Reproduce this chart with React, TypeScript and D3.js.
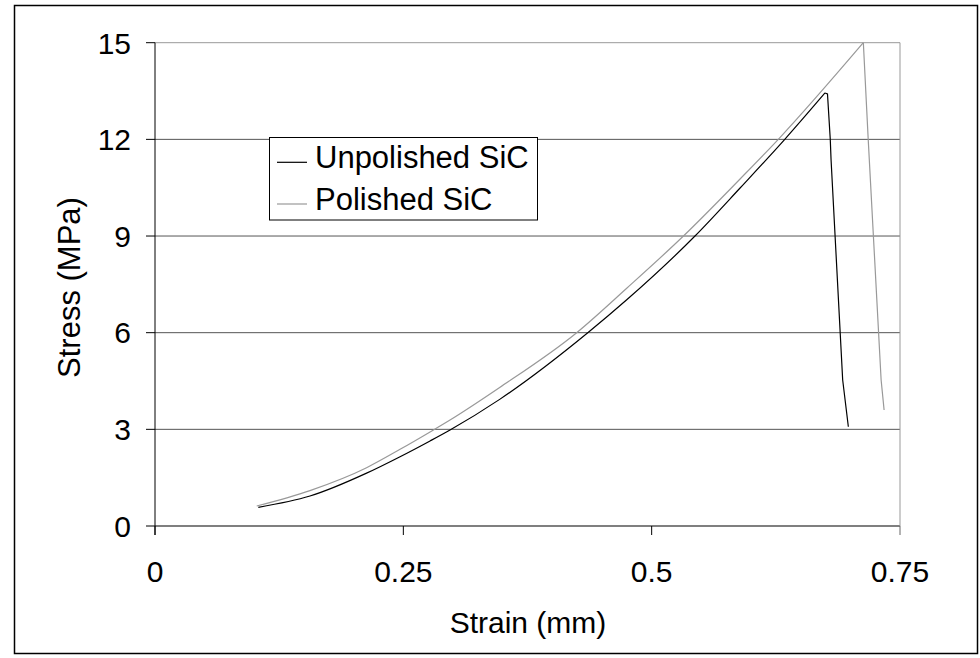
import React from "react";
import * as d3 from "d3";

const polishedStrain = [0.1024, 0.156, 0.213, 0.2467, 0.2769, 0.297, 0.347, 0.4245, 0.4749, 0.532, 0.589, 0.6275, 0.7131, 0.718, 0.731, 0.734];
const polishedStress = [0.62, 1.1, 1.81, 2.38, 2.92, 3.29, 4.3, 6.0, 7.38, 9.0, 10.77, 12.0, 15.0, 12.0, 4.53, 3.6];

const unpolishedStrain = [0.104, 0.156, 0.213, 0.2467, 0.2769, 0.297, 0.347, 0.4366, 0.4749, 0.5436, 0.589, 0.634, 0.6745, 0.677, 0.6798, 0.6806, 0.6923, 0.698];
const unpolishedStress = [0.58, 0.93, 1.64, 2.15, 2.64, 2.98, 3.93, 6.02, 7.02, 9.0, 10.49, 12.0, 13.44, 13.41, 12.0, 11.37, 4.53, 3.08];

const xTicks = [0, 0.25, 0.5, 0.75];
const xTickLabels = ["0", "0.25", "0.5", "0.75"];
const yTicks = [0, 3, 6, 9, 12, 15];
const yTickLabels = ["0", "3", "6", "9", "12", "15"];

const seriesNames = ["Unpolished SiC", "Polished SiC"];
const seriesColors = ["#000000", "#999999"];

const FONT = "'Liberation Sans', Arial, sans-serif";

type P = [number, number];

export default function App() {
  const x = d3.scaleLinear().domain([0, 0.75]).range([155, 900]);
  const y = d3.scaleLinear().domain([0, 15]).range([526, 42.7]);
  const smooth = d3
    .line<P>()
    .x((d) => x(d[0]))
    .y((d) => y(d[1]))
    .curve(d3.curveMonotoneX);
  const straight = d3
    .line<P>()
    .x((d) => x(d[0]))
    .y((d) => y(d[1]));

  const unpol: P[] = unpolishedStrain.map((s, i) => [s, unpolishedStress[i]]);
  const pol: P[] = polishedStrain.map((s, i) => [s, polishedStress[i]]);

  const split = (pts: P[]) => {
    const peak = d3.maxIndex(pts, (d) => d[1]);
    return [pts.slice(0, peak + 1), pts.slice(peak)];
  };
  const [polUp, polDown] = split(pol);
  const [unUp, unDown] = split(unpol);

  return (
    <svg
      width={980}
      height={658}
      style={{ position: "absolute", left: 0, top: 0, background: "#fff" }}
      fontFamily={FONT}
    >
      <rect x={0} y={0} width={980} height={658} fill="#fff" />
      <rect x={14.5} y={5.5} width={963} height={648} fill="none" stroke="#000" strokeWidth={1.5} />

      {/* gridlines */}
      {yTicks.map((t) => (
        <line key={"g" + t} x1={x(0)} x2={x(0.75)} y1={y(t)} y2={y(t)} stroke={t === 15 ? "#999" : "#555"} strokeWidth={t === 0 ? 1.6 : 1} />
      ))}
      {/* plot border right */}
      <line x1={x(0.75)} x2={x(0.75)} y1={y(15)} y2={y(0)} stroke="#999" strokeWidth={1} />

      {/* y axis */}
      <line x1={x(0)} x2={x(0)} y1={y(15)} y2={y(0) + 9} stroke="#000" strokeWidth={1} />
      {yTicks.map((t, i) => (
        <g key={"yt" + t}>
          <line x1={x(0) - 9} x2={x(0)} y1={y(t)} y2={y(t)} stroke="#000" strokeWidth={1} />
          <text x={131} y={y(t) + 10.8} textAnchor="end" fontSize={30} fill="#000">
            {yTickLabels[i]}
          </text>
        </g>
      ))}

      {/* x axis ticks */}
      {xTicks.map((t, i) => (
        <g key={"xt" + t}>
          <line x1={x(t)} x2={x(t)} y1={y(0)} y2={y(0) + 9} stroke={i === 3 ? "#666" : "#000"} strokeWidth={1} />
          <text x={x(t)} y={581.7} textAnchor="middle" fontSize={30} fill="#000">
            {xTickLabels[i]}
          </text>
        </g>
      ))}

      {/* axis titles */}
      <text x={528} y={632.7} textAnchor="middle" fontSize={30} fill="#000">
        Strain (mm)
      </text>
      <text
        transform={`translate(79.5,287.5) rotate(-90)`}
        textAnchor="middle"
        fontSize={31}
        fill="#000"
      >
        Stress (MPa)
      </text>

      {/* series */}
      <path d={smooth(polUp) || ""} fill="none" stroke={seriesColors[1]} strokeWidth={1.2} />
      <path d={straight(polDown) || ""} fill="none" stroke={seriesColors[1]} strokeWidth={1.2} />
      <path d={smooth(unUp) || ""} fill="none" stroke={seriesColors[0]} strokeWidth={1.2} />
      <path d={straight(unDown) || ""} fill="none" stroke={seriesColors[0]} strokeWidth={1.2} />

      {/* legend */}
      <rect x={269.5} y={137.5} width={268} height={82.5} fill="#fff" stroke="#000" strokeWidth={1} />
      {seriesNames.map((n, i) => (
        <g key={n}>
          <line x1={277} x2={307} y1={162.3 + i * 41.7} y2={162.3 + i * 41.7} stroke={seriesColors[i]} strokeWidth={1.2} />
          <text x={315} y={168.3 + i * 41.7} fontSize={31} fill="#000">
            {n}
          </text>
        </g>
      ))}
    </svg>
  );
}
